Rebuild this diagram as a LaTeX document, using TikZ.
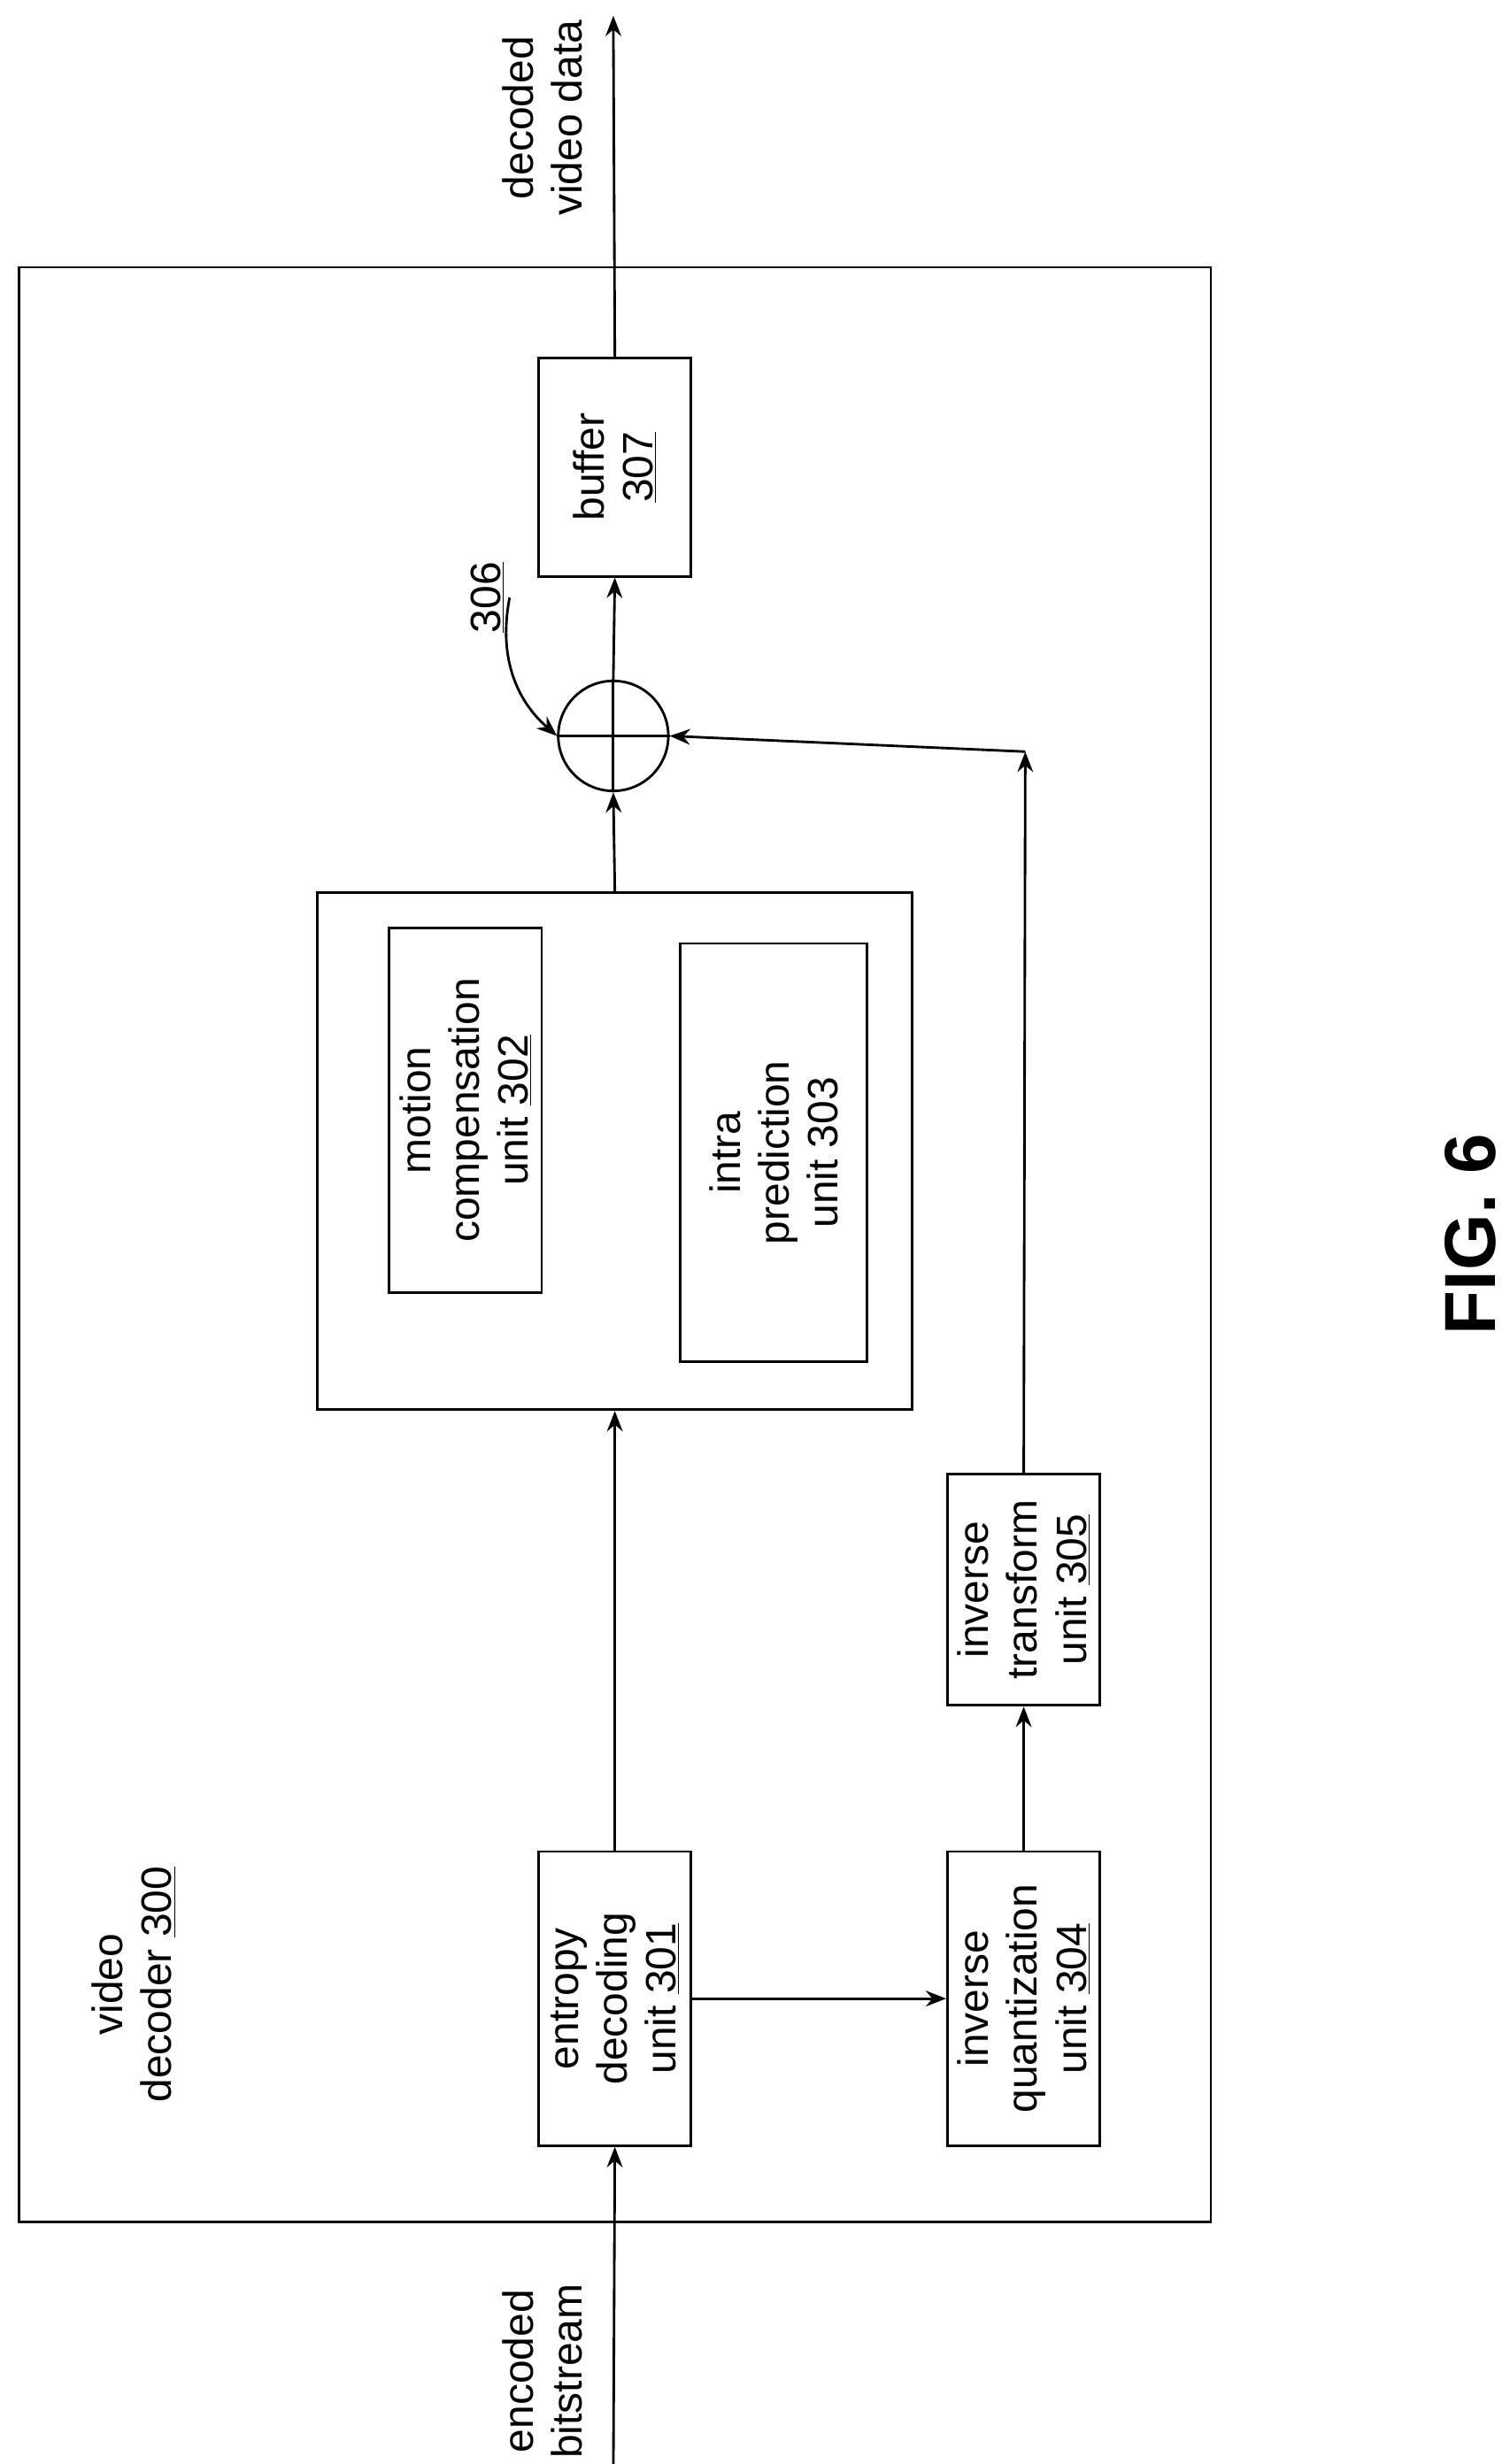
\documentclass[tikz,border=0pt]{standalone}
\usepackage{fontspec}
\setmainfont{Liberation Sans}
\usetikzlibrary{positioning,arrows.meta}
\tikzset{
  blk/.style={draw,line width=1.6pt,rotate=90,align=center,inner sep=2pt,
    font=\fontsize{27}{31}\selectfont},
  lbl/.style={rotate=90,align=center,font=\fontsize{27}{31}\selectfont},
  flow/.style={line width=1.6pt,-{Stealth[length=13pt,width=10pt]}}
}
\begin{document}
\begin{tikzpicture}[x=1pt,y=-1pt]
  \useasboundingbox (0,0) rectangle (960,1567);
  \draw[line width=1.6pt] (12,170) rectangle (770,1413);
  \node (dec)  [lbl] at (85,1262) {video\\decoder \underline{300}};
  \node (ent)  [blk,minimum width=187pt,minimum height=97pt] at (391,1271) {entropy\\decoding\\unit \underline{301}};
  \node (iq)   [blk,minimum width=187pt,minimum height=97pt] at (651,1271) {inverse\\quantization\\unit \underline{304}};
  \node (it)   [blk,minimum width=147pt,minimum height=97pt] at (651,1011) {inverse\\transform\\unit \underline{305}};
  \node (pred) [blk,minimum width=329pt,minimum height=378pt] at (391,732) {};
  \node (mc)   [blk,minimum width=232pt,minimum height=97pt] at (296,706) {motion\\compensation\\unit \underline{302}};
  \node (ip)   [blk,minimum width=266pt,minimum height=119pt] at (492,733) {intra\\prediction\\unit 303};
  \node (sum)  [draw,circle,line width=1.6pt,minimum size=70pt,inner sep=0pt] at (390,468) {};
  \draw[line width=1.6pt] (sum.north) -- (sum.south) (sum.west) -- (sum.east);
  \node (buf)  [blk,minimum width=139pt,minimum height=97pt] at (391,297) {buffer\\\underline{307}};
  \node (sumlbl) [lbl] at (310,380) {\underline{306}};
  \node (inlbl)  [lbl] at (345,1508) {encoded\\bitstream};
  \node (outlbl) [lbl] at (345,75) {decoded\\video data};
  \node (fig)  [rotate=90,font=\fontsize{46}{50}\selectfont\bfseries] at (935,785) {FIG. 6};
  \coordinate (in) at (390,1580);
  \coordinate (out) at (390,10);
  \coordinate (turn) at (652,478);
  \draw[flow] (in) -- (ent.west);
  \draw[flow] (ent.east) -- (pred.west);
  \draw[flow] (ent.south) -- (iq.north);
  \draw[flow] (iq.east) -- (it.west);
  \draw[flow] (it.east) -- (turn);
  \draw[flow] (turn) -- (sum.east);
  \draw[flow] (pred.east) -- (sum.south);
  \draw[flow] (sum.north) -- (buf.west);
  \draw[flow] (buf.east) -- (out);
  \draw[flow] (sumlbl.south) to[bend right=30] (sum.west);
\end{tikzpicture}
\end{document}
